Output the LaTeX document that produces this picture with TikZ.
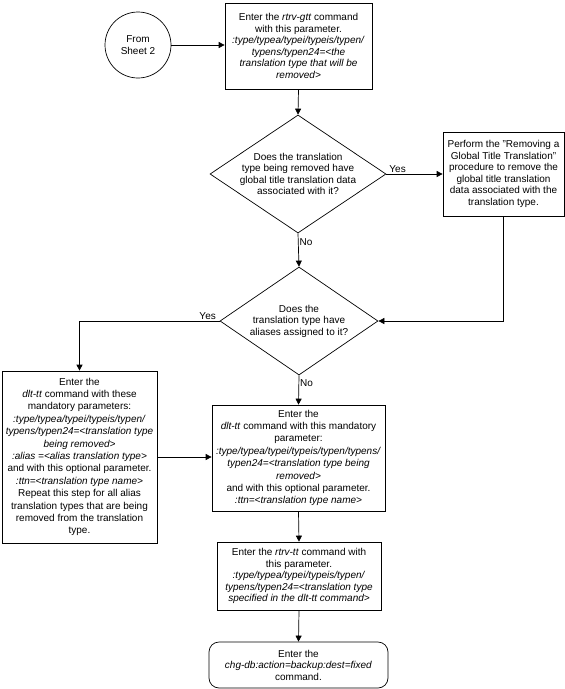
\documentclass[tikz,border=0pt]{standalone}
\usepackage{fontspec}
\setmainfont{Liberation Sans}
\usetikzlibrary{shapes.geometric,arrows.meta}
\begin{document}
\begin{tikzpicture}[x=1pt,y=-1pt,
  font=\fontsize{10}{11.5}\selectfont,
  line width=0.7pt,
  box/.style={draw, rectangle, inner sep=0pt, align=center},
  decision/.style={draw, diamond, inner sep=0pt},
  lbl/.style={inner sep=1pt, align=center},
  arr/.style={-{Triangle[length=6pt,width=6pt]}},
  wide/.style={font=\fontsize{10}{12.4}\selectfont}]
\useasboundingbox (0,0) rectangle (565,689);

\node[draw, circle, minimum size=66pt, inner sep=0pt, align=center] (start) at (138,45) {From\\Sheet 2};

\node[box, minimum width=147pt, minimum height=86pt] (b1) at (298.5,46)
  {Enter the \textit{rtrv-gtt} command\\with this parameter.\\\textit{:type/typea/typei/typeis/typen/}\\\textit{typens/typen24=<the}\\\textit{translation type that will be}\\\textit{removed>}};

\node[decision, minimum width=176pt, minimum height=118pt] (d1) at (298,174) {};
\node[lbl] (d1t) at (d1) {Does the translation\\type being removed have\\global title translation data\\associated with it?};

\node[box, minimum width=121pt, minimum height=84pt] (pr) at (503.5,174)
  {Perform the "Removing a\\Global Title Translation"\\procedure to remove the\\global title translation\\data associated with the\\translation type.};

\node[decision, minimum width=158pt, minimum height=108pt] (d2) at (299,321) {};
\node[lbl] (d2t) at (d2) {Does the\\translation type have\\aliases assigned to it?};

\node[box, wide, minimum width=155pt, minimum height=172pt] (lb) at (79.5,457)
  {Enter the\\\textit{dlt-tt} command with these\\mandatory parameters:\\\textit{:type/typea/typei/typeis/typen/}\\\textit{typens/typen24=<translation type}\\\textit{being removed>}\\\textit{:alias =<alias translation type>}\\and with this optional parameter.\\\textit{:ttn=<translation type name>}\\Repeat this step for all alias\\translation types that are being\\removed from the translation\\type.};

\node[box, wide, minimum width=173pt, minimum height=106pt] (mb) at (298.5,458)
  {Enter the\\\textit{dlt-tt} command with this mandatory\\parameter:\\\textit{:type/typea/typei/typeis/typen/typens/}\\\textit{typen24=<translation type being}\\\textit{removed>}\\and with this optional parameter.\\\textit{:ttn=<translation type name>}};

\node[box, minimum width=164pt, minimum height=68pt] (rb) at (299,576)
  {Enter the \textit{rtrv-tt} command with\\this parameter.\\\textit{:type/typea/typei/typeis/typen/}\\\textit{typens/typen24=<translation type}\\\textit{specified in the dlt-tt command>}};

\node[box, rounded corners=10pt, minimum width=179pt, minimum height=46pt] (fb) at (298.5,665)
  {Enter the\\\textit{chg-db:action=backup:dest=fixed}\\command.};

\draw[arr] (start.east) -- (start.east -| b1.west);
\draw[arr] (b1.south) -- (d1.north);
\draw[arr] (d1.east) -- node[lbl, above, pos=0.2] (y1) {Yes} (d1.east -| pr.west);
\draw[arr] (d1.south) -- node[lbl, right, pos=0.25] (n1) {No} (d2.north);
\draw[arr] (pr.south) |- (d2.east);
\draw[arr] (d2.west) -| (lb.north);
\node[lbl, above] (y2) at ([xshift=-12pt]d2.west) {Yes};
\draw[arr] (d2.south) -- node[lbl, right, pos=0.25] (n2) {No} (mb.north);
\draw[arr] (lb.east) -- (lb.east -| mb.west);
\draw[arr] (mb.south) -- (rb.north);
\draw[arr] (rb.south) -- (fb.north);
\end{tikzpicture}
\end{document}
